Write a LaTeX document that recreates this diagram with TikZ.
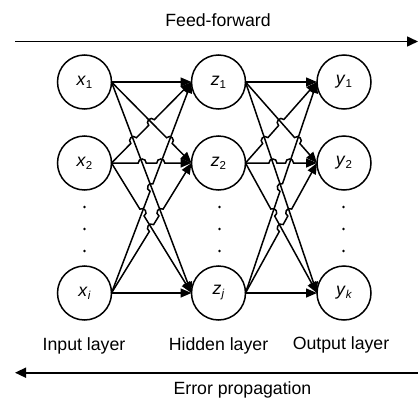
\documentclass[tikz,border=0pt]{standalone}
\usepackage{fontspec}
\setmainfont{Liberation Sans}
\usetikzlibrary{arrows.meta,calc}

\tikzset{
  neuron/.style={circle, draw, line width=1.5pt, minimum size=54pt,
    inner sep=0pt, outer sep=0pt, font=\fontsize{17.7}{20}\selectfont},
  conn/.style={line width=1.5pt, -{Triangle[length=11pt,width=9pt]}},
  flow/.style={line width=1.6pt, -{Triangle[length=11pt,width=10pt]}},
  caption/.style={font=\fontsize{17.7}{20}\selectfont, inner sep=0pt, anchor=base},
  vdot/.style={circle, fill, inner sep=0pt, minimum size=2.8pt},
}
% subscript of a node label
\newcommand\lsub[1]{\raisebox{-3pt}{\fontsize{11.5}{12}\selectfont #1}}
% connector that jumps over crossing lines at the given fractions of its length
\newcommand\hopline[3]{%
  \draw[conn] (#1) foreach \hp in {#3} {
      -- ($(#1)!\hp!(#2)!4pt!(#1)$)
      to[bend left=90, looseness=1.7] ($(#1)!\hp!(#2)!4pt!(#2)$)
    } -- (#2);}

\begin{document}
\begin{tikzpicture}[x=1pt, y=-1pt]
\useasboundingbox (0,0) rectangle (418,399);

% neurons
\node[neuron] (x1) at (84.5,82)  {\textit{x}\lsub{1}};
\node[neuron] (x2) at (84.5,163) {\textit{x}\lsub{2}};
\node[neuron] (x3) at (84.5,293) {\textit{x}\lsub{\textit{i}}};
\node[neuron] (z1) at (218.5,82)  {\textit{z}\lsub{1}};
\node[neuron] (z2) at (218.5,163) {\textit{z}\lsub{2}};
\node[neuron] (z3) at (218.5,293) {\textit{z}\lsub{\textit{j}}};
\node[neuron] (y1) at (344,82)  {\textit{y}\lsub{1}};
\node[neuron] (y2) at (344,163) {\textit{y}\lsub{2}};
\node[neuron] (y3) at (344,293) {\textit{y}\lsub{\textit{k}}};

% vertical ellipsis dots
\foreach \c/\xx in {a/84.5, b/219.5, c/343.5}
  \foreach \r/\yy in {1/207, 2/229, 3/251}
    \node[vdot] (d\c\r) at (\xx,\yy) {};

% input -> hidden
\draw[conn] (x1.east) -- (z1.west);
\hopline{x1.east}{z2.west}{0.723}
\draw[conn] (x1.east) -- (z3.west);
\hopline{x2.east}{z1.west}{0.277,0.5}
\hopline{x2.east}{z2.west}{0.384,0.616}
\hopline{x2.east}{z3.west}{0.381}
\hopline{x3.east}{z1.west}{0.5}
\hopline{x3.east}{z2.west}{0.5,0.619}
\draw[conn] (x3.east) -- (z3.west);

% hidden -> output
\draw[conn] (z1.east) -- (y1.west);
\hopline{z1.east}{y2.west}{0.723}
\draw[conn] (z1.east) -- (y3.west);
\hopline{z2.east}{y1.west}{0.277,0.5}
\hopline{z2.east}{y2.west}{0.384,0.616}
\hopline{z2.east}{y3.west}{0.381}
\hopline{z3.east}{y1.west}{0.5}
\hopline{z3.east}{y2.west}{0.5,0.619}
\draw[conn] (z3.east) -- (y3.west);

% layer captions
\node[caption] (lin)  at (84,350.5)  {Input layer};
\node[caption] (lhid) at (218.5,350.5) {Hidden layer};
\node[caption] (lout) at (341,349.3) {Output layer};

% direction arrows
\coordinate (ffs) at (15,41.5);
\coordinate (ffe) at (418,41.5);
\draw[flow] (ffs) -- (ffe);
\node[caption] (fft) at (218,26.7) {Feed-forward};

\coordinate (eps) at (418,372.7);
\coordinate (epe) at (15,372.7);
\draw[flow] (eps) -- (epe);
\node[caption] (ept) at (242.5,394) {Error propagation};
\end{tikzpicture}
\end{document}
